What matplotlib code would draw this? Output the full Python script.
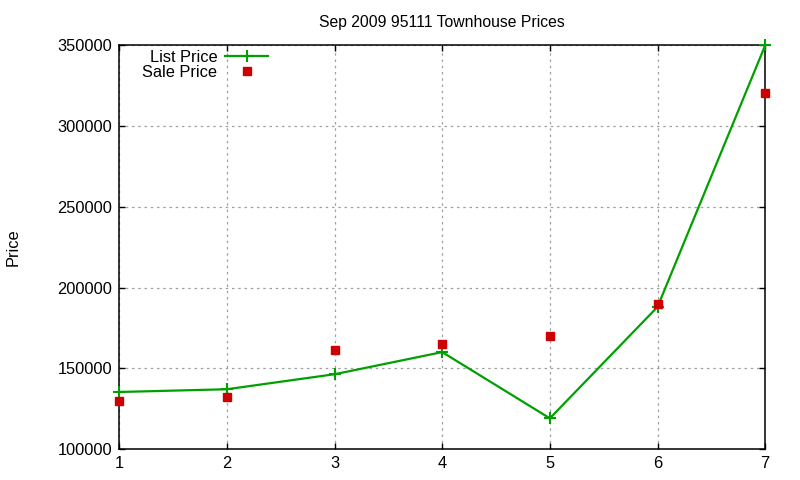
import matplotlib.pyplot as plt

plt.rcParams['font.family'] = ['Liberation Sans', 'DejaVu Sans']

# data
months = [1, 2, 3, 4, 5, 6, 7]
list_price = [135300, 137000, 146300, 160000, 119000, 188000, 350000]
sale_price = [129900, 132400, 161300, 165000, 170000, 190000, 320500]

fig = plt.figure(figsize=(8, 4.8), dpi=100)
ax = fig.add_axes([0.149, 0.0646, 0.8075, 0.841])

ax.plot(months, list_price, color='#00a000', lw=1.6, marker='+', ms=8, mew=1.5,
        label='List Price', clip_on=False, zorder=3)
ax.plot(months, sale_price, ls='none', color='#cc0000', marker='s', ms=6,
        label='Sale Price', clip_on=False, zorder=4)

ax.set_xlim(1, 7)
ax.set_ylim(100000, 350000)
ax.set_xticks(months)
ax.set_yticks(range(100000, 350001, 50000))
ax.tick_params(direction='in', length=4, width=1, top=True, right=True,
               labelsize=11.8, pad=5, colors='black')
ax.grid(True, color='#a0a0a0', ls=(0, (2, 3)), lw=0.9)
for s in ax.spines.values():
    s.set_linewidth(1.1)

ax.set_title('Sep 2009 95111 Townhouse Prices', fontsize=11.3, pad=13)
ax.set_ylabel('Price', fontsize=11.8)
ax.yaxis.set_label_coords(-0.153, 0.5)

leg = ax.legend(loc='upper left', bbox_to_anchor=(0.0254, 1.005), frameon=False,
                markerfirst=False, fontsize=11.8, handlelength=2.6,
                handletextpad=0.5, labelspacing=0.0, borderaxespad=0)

fig.savefig('out.png', dpi=100)
